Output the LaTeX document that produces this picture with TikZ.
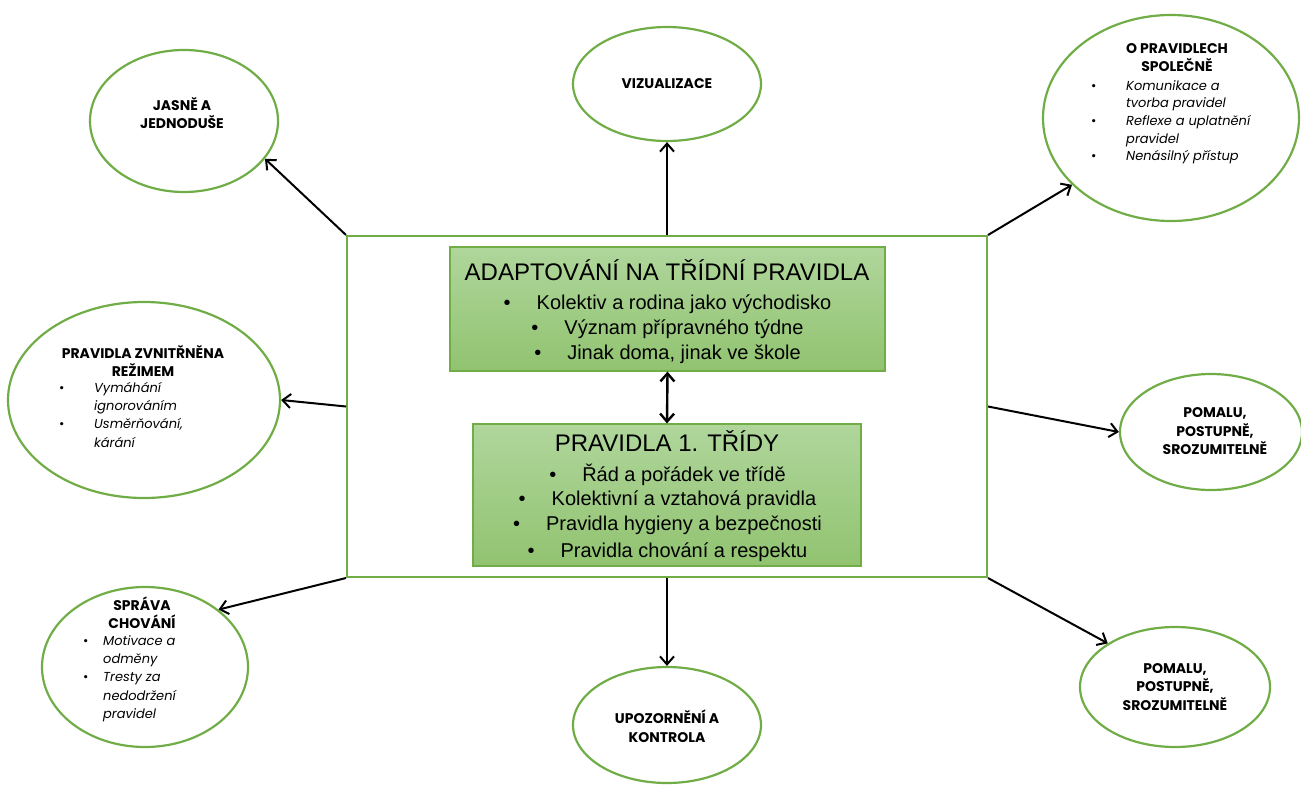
\documentclass[tikz,border=0pt]{standalone}
\usepackage{fontspec}
\setmainfont{Liberation Sans}
\newfontfamily\pop{Poppins}
\usetikzlibrary{shapes.geometric,arrows.meta}
\definecolor{egreen}{RGB}{112,173,71}
\definecolor{gtop}{RGB}{176,214,156}
\definecolor{gbot}{RGB}{145,195,112}
\newcommand\bx[1]{\makebox[#1][l]{\upshape\textbullet}}
\newcommand\ind[1]{\hspace*{#1}}
\newcommand\bl{\llap{\textbullet\hspace{26pt}}}
\begin{document}
\begin{tikzpicture}[x=1pt,y=-1pt,
 ell/.style={ellipse,draw=egreen,line width=2.2pt,inner sep=0pt},
 ttl/.style={font=\pop\bfseries\fontsize{14}{18.5}\selectfont,align=center,inner sep=0pt},
 lst/.style={font=\pop\itshape\fontsize{13}{17.7}\selectfont,align=left,inner sep=0pt,anchor=north west},
 gbox/.style={draw=egreen,line width=1.2pt,top color=gtop,bottom color=gbot,inner sep=0pt},
 btitle/.style={font=\fontsize{24}{28}\selectfont,anchor=base,inner sep=0pt},
 bline/.style={font=\fontsize{20}{24}\selectfont,anchor=base,inner sep=0pt},
 arr/.style={-{Straight Barb[length=8pt,width=14pt,line width=2pt]},line width=2pt},
 darr/.style={{Straight Barb[length=8pt,width=14pt,line width=2.4pt]}-{Straight Barb[length=8pt,width=14pt,line width=2.4pt]},line width=2.4pt},
]
\useasboundingbox (0,0) rectangle (1301,785);

% central frame and boxes
\node[draw=egreen,line width=2pt,minimum width=640pt,minimum height=341pt,inner sep=0pt] (big) at (667,406.5) {};
\node[gbox,minimum width=435pt,minimum height=124pt] (box1) at (667.5,309) {};
\node[gbox,minimum width=388pt,minimum height=142pt] (box2) at (667,495) {};

\node[btitle] (t1) at (667,280.5) {ADAPTOVÁNÍ NA TŘÍDNÍ PRAVIDLA};
\node[bline] (l11) at (684,309) {\bl Kolektiv a rodina jako východisko};
\node[bline] (l12) at (684,334) {\bl Význam přípravného týdne};
\node[bline] (l13) at (684,359) {\bl Jinak doma, jinak ve škole};

\node[btitle] (t2) at (667,451.5) {PRAVIDLA 1. TŘÍDY};
\node[bline] (l21) at (684,481) {\bl Řád a pořádek ve třídě};
\node[bline] (l22) at (684,505) {\bl Kolektivní a vztahová pravidla};
\node[bline] (l23) at (684,530) {\bl Pravidla hygieny a bezpečnosti};
\node[bline] (l24) at (684,557) {\bl Pravidla chování a respektu};

\draw[darr] (box1.south) -- (box2.north);

% ellipses
\node[ell,minimum width=188pt,minimum height=142pt] (jas) at (184,121) {};
\node[ell,minimum width=188pt,minimum height=114pt] (viz) at (667,84) {};
\node[ell,minimum width=256pt,minimum height=206pt] (orp) at (1171,118) {};
\node[ell,minimum width=272pt,minimum height=196pt] (zv) at (144,400) {};
\node[ell,minimum width=182pt,minimum height=116pt] (pom1) at (1211,432) {};
\node[ell,minimum width=206pt,minimum height=160pt] (spr) at (145,667) {};
\node[ell,minimum width=188pt,minimum height=116pt] (upo) at (667,725) {};
\node[ell,minimum width=190pt,minimum height=120pt] (pom2) at (1175,687) {};

% ellipse texts
\node[ttl] (jast) at (182,113) {JASNĚ A\\JEDNODUŠE};
\node[ttl] (vizt) at (667,84) {VIZUALIZACE};
\node[ttl] (orpt) at (1177,57.5) {O PRAVIDLECH\\SPOLEČNĚ};
\node[lst] (orpl) at (1091,80) {\bx{35pt}Komunikace a\\\ind{35pt}tvorba pravidel\\\bx{35pt}Reflexe a uplatnění\\\ind{35pt}pravidel\\\bx{35pt}Nenásilný přístup};
\node[ttl] (zvt) at (143,361) {PRAVIDLA ZVNITŘNĚNA\\REŽIMEM};
\node[lst,font=\pop\itshape\fontsize{13}{18.3}\selectfont] (zvl) at (59,382) {\bx{35pt}Vymáhání\\\ind{35pt}ignorováním\\\bx{35pt}Usměrňování,\\\ind{35pt}kárání};
\node[ttl] (pom1t) at (1215,431.5) {POMALU,\\POSTUPNĚ,\\SROZUMITELNĚ};
\node[ttl] (sprt) at (142,612.5) {SPRÁVA\\CHOVÁNÍ};
\node[lst,font=\pop\itshape\fontsize{13}{18.3}\selectfont] (sprl) at (83,635) {\bx{20pt}Motivace a\\\ind{20pt}odměny\\\bx{20pt}Tresty za\\\ind{20pt}nedodržení\\\ind{20pt}pravidel};
\node[ttl] (upot) at (667,726) {UPOZORNĚNÍ A\\KONTROLA};
\node[ttl] (pom2t) at (1175,687) {POMALU,\\POSTUPNĚ,\\SROZUMITELNĚ};

% connectors
\draw[arr] (big.north west) -- (jas.-25);
\draw[arr] (big.north) -- (viz.south);
\draw[arr] (big.north east) -- (orp.214);
\draw[arr] (big.west) -- (zv.east);
\draw[arr] (big.east) -- (pom1.west);
\draw[arr] (big.south west) -- (spr.38);
\draw[arr] (big.south) -- (upo.north);
\draw[arr] (big.south east) -- (pom2.147);
\end{tikzpicture}
\end{document}
